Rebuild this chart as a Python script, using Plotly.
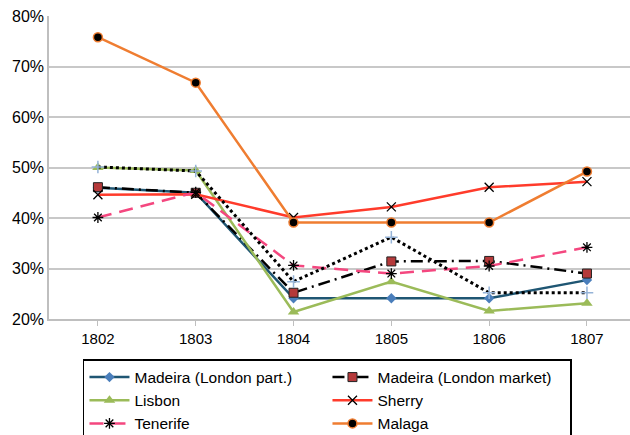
import plotly.graph_objects as go

years = ['1802', '1803', '1804', '1805', '1806', '1807']

madeira_part = [46.0, 45.0, 24.1, 24.1, 24.1, 27.7]
madeira_market = [46.1, 45.0, 25.2, 31.4, 31.5, 29.0]
lisbon = [50.0, 49.4, 21.4, 27.4, 21.6, 23.1]
sherry = [44.6, 44.7, 40.1, 42.2, 46.1, 47.2]
tenerife = [40.1, 45.1, 30.6, 29.0, 30.5, 34.2]
malaga = [75.8, 66.8, 39.1, 39.1, 39.1, 49.2]
unnamed = [50.1, 49.3, 27.4, 36.2, 25.2, 25.2]

y_ticks = [20, 30, 40, 50, 60, 70, 80]
y_labels = ['20%', '30%', '40%', '50%', '60%', '70%', '80%']

fig = go.Figure()

fig.add_trace(go.Scatter(
    x=years, y=madeira_part, name='Madeira (London part.)', mode='lines+markers',
    line=dict(color='#1f5673', width=2.5),
    marker=dict(symbol='diamond', size=8, color='#4a7ebb')))

fig.add_trace(go.Scatter(
    x=years, y=madeira_market, name='Madeira (London market)', mode='lines+markers',
    line=dict(color='black', width=2.5, dash='12px,5px,2px,5px'),
    marker=dict(symbol='square', size=9, color='#b5393a',
                line=dict(color='#222', width=1))))

fig.add_trace(go.Scatter(
    x=years, y=lisbon, name='Lisbon', mode='lines+markers',
    line=dict(color='#9bbb59', width=2.5),
    marker=dict(symbol='triangle-up', size=10, color='#9bbb59')))

fig.add_trace(go.Scatter(
    x=years, y=sherry, name='Sherry', mode='lines+markers',
    line=dict(color='#ff3b2b', width=2.5),
    marker=dict(symbol='x-thin-open', size=9, color='black',
                line=dict(color='black', width=1.3))))

fig.add_trace(go.Scatter(
    x=years, y=tenerife, name='Tenerife', mode='lines+markers',
    line=dict(color='#f4477f', width=2.5, dash='14px,8px'),
    marker=dict(symbol='asterisk-open', size=9, color='black',
                line=dict(color='black', width=1.3))))

fig.add_trace(go.Scatter(
    x=years, y=malaga, name='Malaga', mode='lines+markers',
    line=dict(color='#ef7d31', width=2.5),
    marker=dict(symbol='circle', size=9, color='black',
                line=dict(color='#ef7d31', width=1.5))))

fig.add_trace(go.Scatter(
    x=years, y=unnamed, name='', mode='lines+markers', showlegend=False,
    line=dict(color='black', width=3, dash='dot'),
    marker=dict(symbol='cross-thin-open', size=9, color='#95b3d7',
                line=dict(color='#95b3d7', width=1.5))))

fig.update_layout(
    width=630, height=435,
    margin=dict(l=49, r=0, t=16, b=116),
    paper_bgcolor='white', plot_bgcolor='white',
    font=dict(family='Liberation Sans, Arial, sans-serif', size=15, color='black'),
    showlegend=True,
    legend=dict(
        orientation='h', xref='container', yref='container',
        x=0.1317, xanchor='left', y=0.1747, yanchor='top',
        entrywidth=188, bordercolor='black', borderwidth=1.5,
        font=dict(size=15.5), tracegroupgap=0, itemwidth=40))

fig.update_xaxes(
    type='category', range=[-0.5, 5.44], automargin=False,
    showline=True, linecolor='#bfbfbf', linewidth=1.5,
    ticks='outside', ticklen=5, tickcolor='#bfbfbf',
    showgrid=False, tickfont=dict(size=15))

fig.update_yaxes(
    range=[20, 80], tickvals=y_ticks, ticktext=y_labels, automargin=False,
    showline=True, linecolor='#bfbfbf', linewidth=1.5,
    gridcolor='#c8c8c8', gridwidth=1.5, zeroline=False,
    tickfont=dict(size=16), ticks='')

# drop the page's default body margin so the figure sits at the window corner
fig.write_html("out.html",
               config={'displayModeBar': False},
               post_script="document.body.style.margin='0';"
                           "document.body.style.overflow='hidden';")
